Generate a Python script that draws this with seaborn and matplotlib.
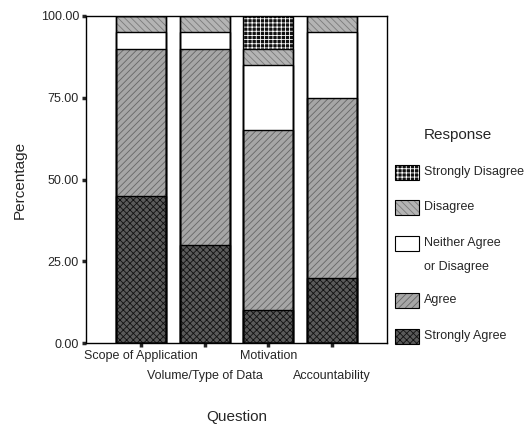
import matplotlib
matplotlib.use("Agg")
import matplotlib.pyplot as plt
import seaborn as sns
import numpy as np
from matplotlib.patches import Rectangle

# Data (percent of respondents per question)
questions = ["Scope of Application", "Volume/Type of Data", "Motivation", "Accountability"]
strongly_agree = [45, 30, 10, 20]
agree = [45, 60, 55, 55]
neither = [5, 5, 20, 20]
disagree = [5, 5, 5, 5]
strongly_disagree = [0, 0, 10, 0]
y_ticks = [0, 25, 50, 75, 100]

responses = ["Strongly Agree", "Agree", "Neither Agree\nor Disagree", "Disagree", "Strongly Disagree"]
layers = [strongly_agree, agree, neither, disagree, strongly_disagree]

# face colour, hatch, hatch colour
styles = [
    ("#5a5a5a", "xxxxx", "#111111"),
    ("#a6a6a6", "/////", "#666666"),
    ("white", "", "white"),
    ("#b4b4b4", "\\\\\\\\\\", "#7a7a7a"),
    ("#111111", "++++", "white"),
]

sns.set_style("ticks")
plt.rcParams["font.family"] = ["Liberation Sans", "DejaVu Sans"]
plt.rcParams["hatch.linewidth"] = 0.6

W, H = 524, 424
fig = plt.figure(figsize=(W / 100, H / 100), dpi=100)
ax = fig.add_axes([86 / W, 1 - 343 / H, 301 / W, 327 / H])

cum = np.cumsum(np.array(layers), axis=0)

# draw from the top layer down so each lower segment paints over the taller one
for i in range(len(layers) - 1, -1, -1):
    face, hatch, hcol = styles[i]
    sns.barplot(x=questions, y=cum[i], color=face, saturation=1, hatch=hatch,
                edgecolor=hcol, linewidth=0, width=0.79, errorbar=None, ax=ax)

# outlines of every segment
for i in range(len(layers) - 1, -1, -1):
    sns.barplot(x=questions, y=cum[i], color="black", fill=False, linewidth=1.0,
                width=0.79, errorbar=None, ax=ax)

ax.set_xlim(-0.87, 3.87)
ax.set_ylim(0, 100)
ax.set_yticks(y_ticks)
ax.set_yticklabels([f"{v:.2f}" for v in y_ticks], fontsize=9)

# staggered category labels: even ones on major ticks, odd ones on minor ticks
ax.set_xticks([0, 2])
ax.set_xticklabels([questions[0], questions[2]], fontsize=9)
ax.set_xticks([1, 3], minor=True)
ax.set_xticklabels([questions[1], questions[3]], minor=True, fontsize=9)
ax.tick_params(axis="both", which="both", length=3, width=2.5, direction="out")
ax.tick_params(axis="y", pad=2)
ax.tick_params(axis="x", which="major", pad=2)
ax.tick_params(axis="x", which="minor", pad=16.5)
for s in ax.spines.values():
    s.set_visible(True)
    s.set_linewidth(1.0)
    s.set_color("black")

ax.set_ylabel("Percentage", fontsize=11, labelpad=10)
ax.set_xlabel("Question", fontsize=11)
ax.xaxis.set_label_coords(0.5, -0.205)

# legend drawn by hand to match the original spacing
fig.text(458 / W, 1 - 134.5 / H, "Response", fontsize=11, ha="center", va="center")
entry_y = [336, 300, 243, 207, 172]
for i in range(len(layers) - 1, -1, -1):
    face, hatch, hcol = styles[i]
    yc = entry_y[i]
    box = [395 / W, 1 - (yc + 7.5) / H]
    fig.add_artist(Rectangle(box, 24 / W, 15 / H, transform=fig.transFigure,
                             facecolor=face, hatch=hatch, edgecolor=hcol, linewidth=0))
    fig.add_artist(Rectangle(box, 24 / W, 15 / H, transform=fig.transFigure,
                             fill=False, edgecolor="black", linewidth=0.8))
    lines = responses[i].split("\n")
    for k, line in enumerate(lines):
        fig.text(424 / W, 1 - (yc + 24 * k) / H, line, fontsize=9, ha="left", va="center")

fig.savefig("out.png", dpi=100)
